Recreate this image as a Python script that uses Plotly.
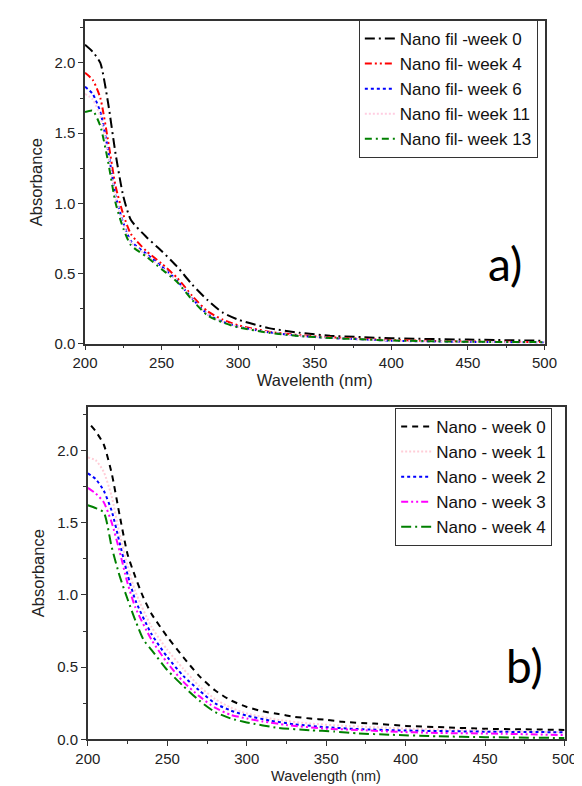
import plotly.graph_objects as go

# ---------------- Panel a data ----------------
wl_a = [200, 205, 210, 215, 220, 225, 230, 240, 250, 260, 270, 280, 290, 300, 320, 340, 360, 380, 400, 450, 500]
a_week0 = [2.13, 2.08, 2.00, 1.72, 1.35, 1.05, 0.88, 0.76, 0.66, 0.55, 0.42, 0.31, 0.22, 0.17, 0.11, 0.077, 0.056, 0.046, 0.038, 0.028, 0.02]
a_week4 = [1.93, 1.88, 1.75, 1.45, 1.12, 0.92, 0.78, 0.66, 0.57, 0.47, 0.34, 0.23, 0.17, 0.13, 0.085, 0.06, 0.045, 0.035, 0.025, 0.015, 0.01]
a_week6 = [1.83, 1.78, 1.65, 1.38, 1.05, 0.86, 0.73, 0.64, 0.55, 0.45, 0.32, 0.21, 0.155, 0.12, 0.08, 0.055, 0.04, 0.03, 0.02, 0.012, 0.008]
a_week11 = [1.78, 1.74, 1.62, 1.36, 1.04, 0.85, 0.72, 0.63, 0.54, 0.45, 0.32, 0.21, 0.155, 0.12, 0.08, 0.055, 0.04, 0.03, 0.02, 0.012, 0.008]
a_week13 = [1.65, 1.66, 1.55, 1.30, 1.00, 0.82, 0.70, 0.62, 0.53, 0.44, 0.31, 0.20, 0.15, 0.115, 0.077, 0.053, 0.04, 0.03, 0.022, 0.013, 0.01]
a_names = ["Nano fil -week 0", "Nano fil- week 4", "Nano fil- week 6", "Nano fil- week 11", "Nano fil- week 13"]

# ---------------- Panel b data ----------------
wl_b0 = [202, 205, 210, 215, 220, 225, 230, 235, 240, 250, 260, 270, 280, 290, 300, 310, 320, 330, 340, 350, 360, 380, 400, 425, 450, 475, 500]
b_week0 = [2.17, 2.13, 2.04, 1.84, 1.55, 1.28, 1.12, 0.98, 0.87, 0.71, 0.57, 0.44, 0.34, 0.27, 0.225, 0.195, 0.176, 0.157, 0.145, 0.136, 0.122, 0.11, 0.094, 0.084, 0.074, 0.07, 0.066]
wl_b1 = [200, 205, 210, 215, 220, 225, 230, 240, 250, 260, 270, 280, 290, 300, 320, 340, 360, 380, 400, 450, 500]
b_week1 = [1.95, 1.93, 1.85, 1.68, 1.42, 1.20, 1.02, 0.78, 0.62, 0.49, 0.37, 0.28, 0.22, 0.18, 0.135, 0.11, 0.095, 0.085, 0.075, 0.06, 0.05]
wl_b2 = [200, 205, 210, 215, 220, 225, 230, 240, 250, 260, 270, 280, 290, 300, 315, 330, 350, 370, 400, 450, 500]
b_week2 = [1.84, 1.80, 1.72, 1.58, 1.36, 1.14, 0.96, 0.73, 0.57, 0.44, 0.34, 0.25, 0.20, 0.165, 0.13, 0.105, 0.085, 0.072, 0.062, 0.054, 0.05]
wl_b3 = [200, 205, 210, 215, 220, 225, 230, 240, 250, 260, 270, 280, 290, 300, 310, 325, 350, 370, 390, 420, 460, 500]
b_week3 = [1.74, 1.70, 1.64, 1.50, 1.30, 1.08, 0.91, 0.69, 0.53, 0.40, 0.30, 0.22, 0.17, 0.145, 0.125, 0.10, 0.075, 0.066, 0.055, 0.045, 0.04, 0.03]
wl_b4 = [200, 205, 210, 215, 220, 225, 230, 235, 240, 250, 260, 270, 280, 290, 300, 320, 340, 355, 370, 390, 420, 450, 500]
b_week4 = [1.62, 1.60, 1.57, 1.33, 1.13, 0.97, 0.82, 0.69, 0.62, 0.48, 0.37, 0.27, 0.19, 0.145, 0.118, 0.08, 0.064, 0.055, 0.042, 0.033, 0.022, 0.016, 0.01]
b_names = ["Nano - week 0", "Nano - week 1", "Nano - week 2", "Nano - week 3", "Nano - week 4"]

x_ticks = [200, 250, 300, 350, 400, 450, 500]
y_ticks = [0.0, 0.5, 1.0, 1.5, 2.0]

W, H = 582, 786
def px(x): return x / W
def py(y): return 1 - y / H

fig = go.Figure()

a_styles = [
    ("black", "10px,4px,2px,4px"),
    ("red", "7px,3px,2px,3px,2px,3px"),
    ("blue", "3px,3px"),
    ("rgb(255,205,225)", "2px,2px"),
    ("green", "7px,4px,2px,4px"),
]
for ys, name, (c, d) in zip([a_week0, a_week4, a_week6, a_week11, a_week13], a_names, a_styles):
    fig.add_trace(go.Scatter(x=wl_a, y=ys, name=name, mode="lines",
                             line=dict(color=c, dash=d, width=2, shape="spline", smoothing=0.6),
                             xaxis="x", yaxis="y", legend="legend"))

b_styles = [
    ("black", "6px,5px"),
    ("rgb(255,205,215)", "2px,2px"),
    ("blue", "3px,3px"),
    ("magenta", "7px,3px,2px,3px,2px,3px"),
    ("green", "10px,4px,2px,4px"),
]
for xs, ys, name, (c, d) in zip([wl_b0, wl_b1, wl_b2, wl_b3, wl_b4],
                                [b_week0, b_week1, b_week2, b_week3, b_week4], b_names, b_styles):
    fig.add_trace(go.Scatter(x=xs, y=ys, name=name, mode="lines",
                             line=dict(color=c, dash=d, width=2, shape="spline", smoothing=0.6),
                             xaxis="x2", yaxis="y2", legend="legend2"))

FONT = "Liberation Sans"
tickfont = dict(family=FONT, size=15, color="#222")
titlefont = dict(family=FONT, size=16.5, color="#222")
axis_common = dict(showline=True, linecolor="#333", linewidth=1.5, mirror=True,
                   ticks="outside", ticklen=5, tickwidth=1, tickcolor="#333",
                   showgrid=False, zeroline=False, tickfont=tickfont)

legfont = dict(family=FONT, size=17, color="#111")

fig.update_layout(
    width=W, height=H,
    margin=dict(l=0, r=0, t=0, b=0),
    paper_bgcolor="white", plot_bgcolor="white",
    showlegend=True,
    xaxis=dict(domain=[px(67), px(548)], anchor="y", range=[200, 500],
               tickvals=x_ticks, title=dict(text="Wavelenth (nm)", font=titlefont, standoff=2),
               minor=dict(ticks="outside", ticklen=3, dtick=25, tickcolor="#333"), **axis_common),
    yaxis=dict(domain=[py(339), py(13)], anchor="x", range=[0, 2.3],
               tickvals=y_ticks, tickformat=".1f", title=dict(text="Absorbance", font=titlefont, standoff=8),
               minor=dict(ticks="outside", ticklen=3, dtick=0.25, tickcolor="#333"), **axis_common),
    xaxis2=dict(domain=[px(70), px(569)], anchor="y2", range=[200, 500],
                tickvals=x_ticks,
                minor=dict(ticks="outside", ticklen=3, dtick=25, tickcolor="#333"), **axis_common),
    yaxis2=dict(domain=[py(739), py(403)], anchor="x2", range=[0, 2.3],
                tickvals=y_ticks, tickformat=".1f", title=dict(text="Absorbance", font=titlefont, standoff=8),
                minor=dict(ticks="outside", ticklen=3, dtick=0.25, tickcolor="#333"), **axis_common),
    legend=dict(x=px(541), y=py(12), xanchor="right", yanchor="top",
                bordercolor="#333", borderwidth=1, bgcolor="white",
                font=legfont, tracegroupgap=0, itemwidth=30),
    legend2=dict(x=px(556), y=py(404), xanchor="right", yanchor="top",
                 bordercolor="#333", borderwidth=1, bgcolor="white",
                 font=legfont, tracegroupgap=0, itemwidth=30),
    annotations=[
        dict(text="a)", x=px(507), y=py(258), xref="paper", yref="paper", showarrow=False,
             font=dict(family="Lato, Open Sans", size=46, color="black"), xanchor="center", yanchor="middle"),
        dict(text="b)", x=px(527), y=py(664), xref="paper", yref="paper", showarrow=False,
             font=dict(family="Lato, Open Sans", size=46, color="black"), xanchor="center", yanchor="middle"),
        dict(text="Wavelength (nm)", x=px((70 + 569) / 2), y=py(786), xref="paper", yref="paper",
             showarrow=False, xanchor="center", yanchor="bottom",
             font=dict(family=FONT, size=14.5, color="#222")),
    ],
)

fig.write_html("out.html")
